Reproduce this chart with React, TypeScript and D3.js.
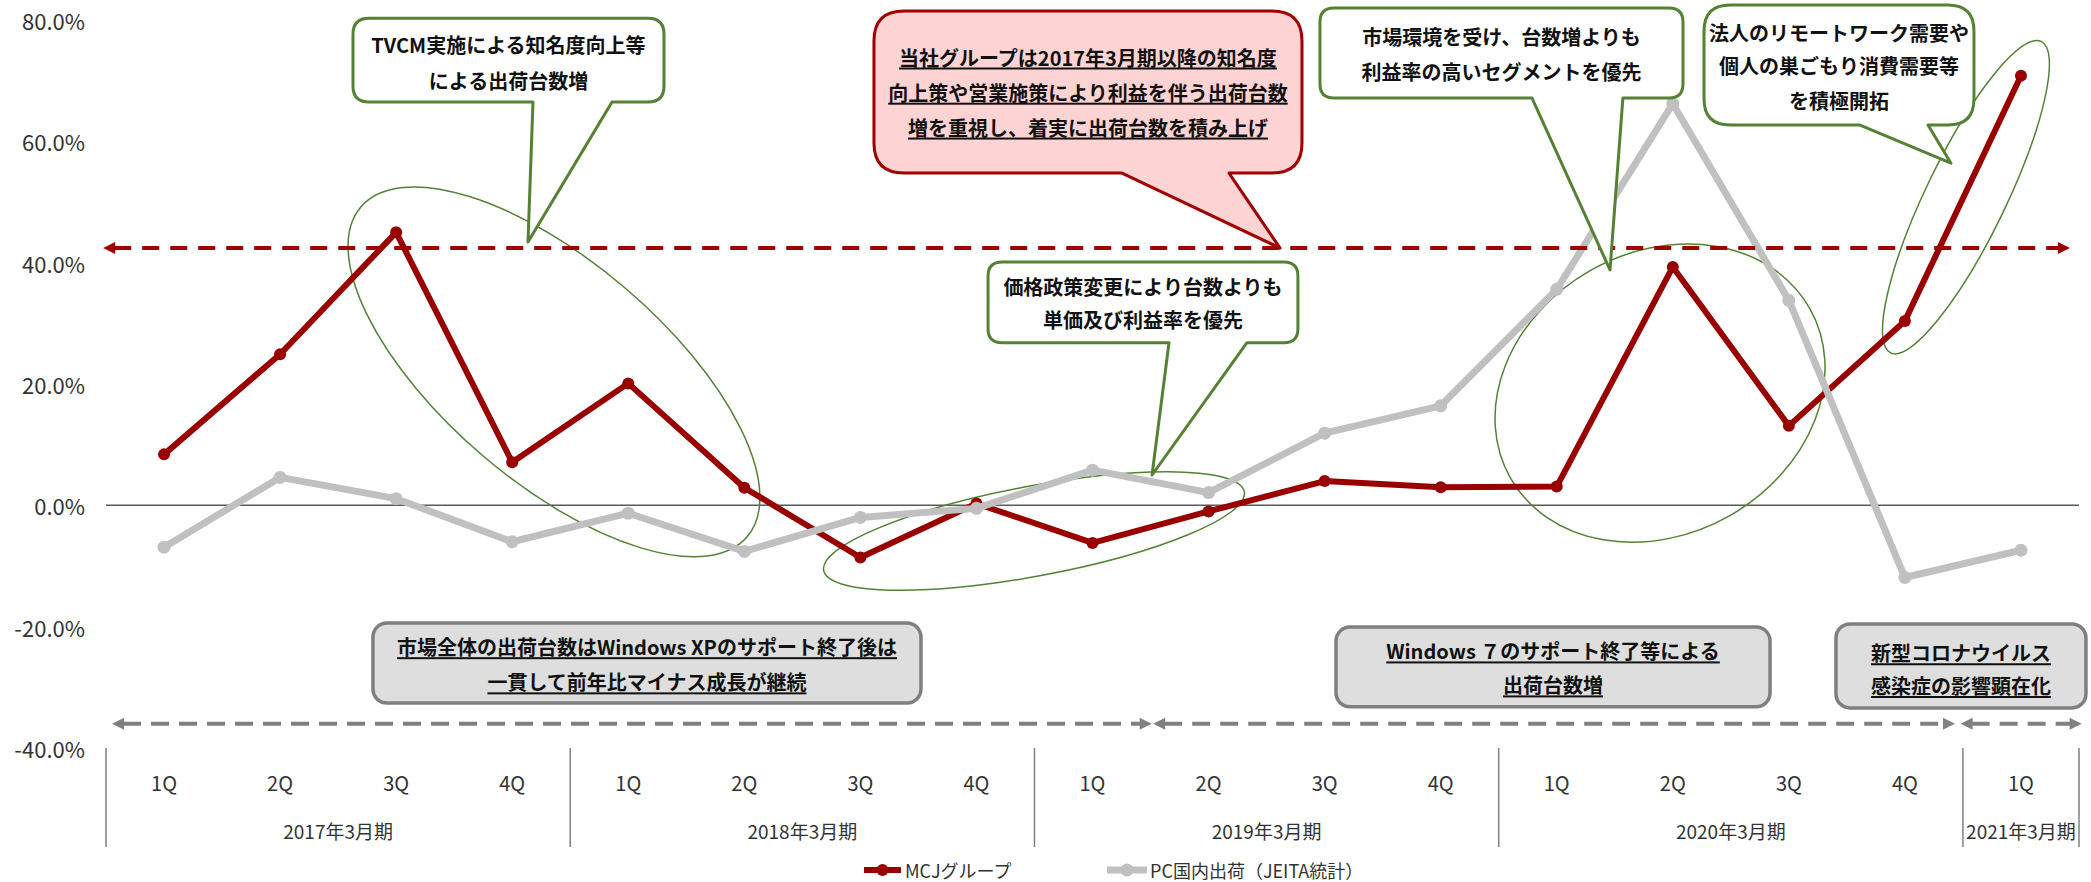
import React from "react";
import * as d3 from "d3";

// ---------- data ----------
const quarters = ["1Q","2Q","3Q","4Q","1Q","2Q","3Q","4Q","1Q","2Q","3Q","4Q","1Q","2Q","3Q","4Q","1Q"];
const fiscalYears = ["2017年3月期","2018年3月期","2019年3月期","2020年3月期","2021年3月期"];
const yearQuarterCounts = [4, 4, 4, 4, 1];
const mcjValues = [8.4, 24.9, 45.0, 7.1, 20.1, 2.9, -8.6, 0.3, -6.2, -1.0, 4.0, 3.0, 3.1, 39.3, 13.1, 30.4, 70.8];
const pcValues = [-6.9, 4.6, 1.1, -6.0, -1.3, -7.6, -2.0, -0.5, 5.8, 2.1, 11.9, 16.4, 35.6, 66.2, 33.8, -11.9, -7.4];
const yTicks = [-40, -20, 0, 20, 40, 60, 80];
const seriesNames = ["MCJグループ", "PC国内出荷（JEITA統計）"];
const referenceLevel = 42.4;
const referenceSpan = { u0: -0.024, u1: 16.922 };

// annotations in data units (u = quarter position from left edge, v = percent)
const greenCallouts = [
  { lines: ["TVCM実施による知名度向上等", "による出荷台数増"], u0: 2.128, u1: 4.808, v0: 80.3, v1: 66.5, b0: 3.679, b1: 4.36, tu: 3.636, tv: 43.4, tl: [75.9, 70.1], r: 16 },
  { lines: ["価格政策変更により台数よりも", "単価及び利益率を優先"], u0: 7.6, u1: 10.27, v0: 40.1, v1: 26.8, b0: 9.159, b1: 9.831, tu: 9.013, tv: 5.0, tl: [36.0, 30.6], r: 14 },
  { lines: ["市場環境を受け、台数増よりも", "利益率の高いセグメントを優先"], u0: 10.46, u1: 13.588, v0: 81.97, v1: 67.13, b0: 12.287, b1: 13.07, tu: 12.959, tv: 38.8, tl: [77.2, 71.5], r: 14 },
  { lines: ["法人のリモートワーク需要や", "個人の巣ごもり消費需要等", "を積極開拓"], u0: 13.769, u1: 16.095, v0: 82.47, v1: 62.69, b0: 15.113, b1: 15.699, tu: 15.897, tv: 56.4, tl: [77.98, 72.5, 66.8], r: 26 },
];
const redCallout = { lines: ["当社グループは2017年3月期以降の知名度", "向上策や営業施策により利益を伴う出荷台数", "増を重視し、着実に出荷台数を積み上げ"], u0: 6.617, u1: 10.305, v0: 81.48, v1: 54.77, b0: 8.754, b1: 9.676, tu: 10.116, tv: 42.41, tl: [73.9, 68.1, 62.35], r: 30 };
const grayBoxes = [
  { lines: ["市場全体の出荷台数はWindows XPのサポート終了後は", "一貫して前年比マイナス成長が継続"], u0: 2.3, u1: 7.022, v0: -19.4, v1: -32.6, tl: [-23.3, -29.1] },
  { lines: ["Windows ７のサポート終了等による", "出荷台数増"], u0: 10.598, u1: 14.338, v0: -20.06, v1: -33.2, tl: [-24.0, -29.6] },
  { lines: ["新型コロナウイルス", "感染症の影響顕在化"], u0: 14.906, u1: 17.06, v0: -19.56, v1: -33.4, tl: [-24.3, -29.7] },
];
const grayArrows = [
  { u0: 0.052, u1: 9.01 },
  { u0: 9.023, u1: 15.931 },
  { u0: 15.98, u1: 17.023 },
];
const arrowLevel = -36.0;
const ellipses = [
  { u: 3.86, v: 22.0, rx: 254, ry: 110, rot: 40.5 },
  { u: 7.996, v: -4.24, rx: 214, ry: 45, rot: -10.6 },
  { u: 13.39, v: 18.5, rx: 172, ry: 141, rot: -29.5 },
  { u: 16.026, v: 50.8, rx: 173, ry: 40, rot: -64.2 },
];

const W = 2091;
const H = 882;
const FONT = "'Noto Sans CJK JP', 'Noto Sans', sans-serif";

function bubblePath(x0: number, y0: number, x1: number, y1: number, r: number, bx0: number, bx1: number, tx: number, ty: number) {
  return `M${x0 + r},${y0} H${x1 - r} Q${x1},${y0} ${x1},${y0 + r} V${y1 - r} Q${x1},${y1} ${x1 - r},${y1} H${bx1} L${tx},${ty} L${bx0},${y1} H${x0 + r} Q${x0},${y1} ${x0},${y1 - r} V${y0 + r} Q${x0},${y0} ${x0 + r},${y0} Z`;
}

function DoubleArrow({ x0, x1, yy, color, dash }: { x0: number; x1: number; yy: number; color: string; dash: string }) {
  const hl = 12, hw = 6;
  return (
    <g>
      <line x1={x0 + hl - 1} x2={x1 - hl + 1} y1={yy} y2={yy} stroke={color} strokeWidth={4} strokeDasharray={dash} />
      <path d={`M${x0},${yy} L${x0 + hl},${yy - hw} L${x0 + hl},${yy + hw} Z`} fill={color} />
      <path d={`M${x1},${yy} L${x1 - hl},${yy - hw} L${x1 - hl},${yy + hw} Z`} fill={color} />
    </g>
  );
}

export default function App() {
  const xu = d3.scaleLinear().domain([0, quarters.length]).range([106, 2079]);
  const y = d3.scaleLinear().domain([-40, 80]).range([748, 20]);
  const cx = (i: number) => xu(i + 0.5);

  const line = d3.line<number>().x((_, i) => cx(i)).y((d) => y(d));

  const boundaries = [0, ...d3.cumsum(yearQuarterCounts)];
  const axisBottom = y(-40) + 99;

  const dashRed = "#a00000";
  const redLine = "#990000";
  const grayLine = "#c0c0c0";
  const green = "#548235";

  return (
    <svg width={W} height={H} style={{ position: "absolute", left: 0, top: 0, display: "block", background: "#fff" }} fontFamily={FONT}>
      {/* y tick labels */}
      {yTicks.map((t) => (
        <text key={t} x={85} y={y(t)} textAnchor="end" dominantBaseline="central" fontSize={22} fill="#333">
          {t.toFixed(1) + "%"}
        </text>
      ))}

      {/* zero line */}
      <line x1={xu(0)} x2={xu(quarters.length)} y1={y(0)} y2={y(0)} stroke="#595959" strokeWidth={1.5} />

      {/* category separators */}
      {boundaries.map((b, i) => (
        <line key={i} x1={xu(b)} x2={xu(b)} y1={y(-40)} y2={axisBottom} stroke="#808080" strokeWidth={1.5} />
      ))}
      {quarters.map((q, i) => (
        <text key={i} x={cx(i)} y={782} textAnchor="middle" dominantBaseline="central" fontSize={20} fill="#333">{q}</text>
      ))}
      {fiscalYears.map((fy, i) => (
        <text key={fy} x={(xu(boundaries[i]) + xu(boundaries[i + 1])) / 2} y={830} textAnchor="middle" dominantBaseline="central" fontSize={19} fill="#333">{fy}</text>
      ))}

      {/* ellipses */}
      {ellipses.map((e, i) => {
        const ex = xu(e.u), ey = y(e.v);
        return <ellipse key={i} cx={ex} cy={ey} rx={e.rx} ry={e.ry} transform={`rotate(${e.rot} ${ex} ${ey})`} fill="none" stroke={green} strokeWidth={1.5} />;
      })}

      {/* series */}
      <path d={line(mcjValues) || ""} fill="none" stroke={redLine} strokeWidth={6} strokeLinejoin="round" />
      {mcjValues.map((v, i) => <circle key={i} cx={cx(i)} cy={y(v)} r={6} fill={redLine} />)}
      <path d={line(pcValues) || ""} fill="none" stroke={grayLine} strokeWidth={7} strokeLinejoin="round" />
      {pcValues.map((v, i) => <circle key={i} cx={cx(i)} cy={y(v)} r={6.5} fill={grayLine} />)}

      {/* reference dashed line */}
      <DoubleArrow x0={xu(referenceSpan.u0)} x1={xu(referenceSpan.u1)} yy={y(referenceLevel)} color={dashRed} dash="17 11" />

      {/* gray arrows */}
      {grayArrows.map((a, i) => (
        <DoubleArrow key={i} x0={xu(a.u0)} x1={xu(a.u1)} yy={y(arrowLevel)} color="#808080" dash="18 10" />
      ))}

      {/* gray boxes */}
      {grayBoxes.map((b, i) => {
        const x0 = xu(b.u0), x1 = xu(b.u1);
        const y0 = y(b.v0), y1 = y(b.v1);
        return (
          <g key={i}>
            <rect x={x0} y={y0} width={x1 - x0} height={y1 - y0} rx={14} fill="#dedede" stroke="#7f7f7f" strokeWidth={3.5} />
            {b.lines.map((l, j) => (
              <text key={j} x={(x0 + x1) / 2} y={y(b.tl[j])} textAnchor="middle" dominantBaseline="central" fontSize={20} fontWeight="bold" fill="#111" textDecoration="underline">{l}</text>
            ))}
          </g>
        );
      })}

      {/* green callouts */}
      {greenCallouts.map((c, i) => {
        const x0 = xu(c.u0), x1 = xu(c.u1);
        return (
          <g key={i}>
            <path d={bubblePath(x0, y(c.v0), x1, y(c.v1), c.r, xu(c.b0), xu(c.b1), xu(c.tu), y(c.tv))} fill="#fff" stroke={green} strokeWidth={3} strokeLinejoin="round" />
            {c.lines.map((l, j) => (
              <text key={j} x={(x0 + x1) / 2} y={y(c.tl[j])} textAnchor="middle" dominantBaseline="central" fontSize={20} fontWeight="bold" fill="#111">{l}</text>
            ))}
          </g>
        );
      })}

      {/* red callout */}
      {(() => {
        const c = redCallout;
        const x0 = xu(c.u0), x1 = xu(c.u1);
        return (
          <g>
            <path d={bubblePath(x0, y(c.v0), x1, y(c.v1), c.r, xu(c.b0), xu(c.b1), xu(c.tu), y(c.tv))} fill="#fdd3d3" stroke="#a00000" strokeWidth={3} strokeLinejoin="round" />
            {c.lines.map((l, j) => (
              <text key={j} x={(x0 + x1) / 2} y={y(c.tl[j])} textAnchor="middle" dominantBaseline="central" fontSize={20} fontWeight="bold" fill="#111" textDecoration="underline">{l}</text>
            ))}
          </g>
        );
      })()}

      {/* legend */}
      <g>
        <line x1={864} x2={901} y1={870} y2={870} stroke={redLine} strokeWidth={6} />
        <circle cx={882.5} cy={870} r={6} fill={redLine} />
        <text x={905} y={870} dominantBaseline="central" fontSize={18} fill="#333">{seriesNames[0]}</text>
        <line x1={1107} x2={1147} y1={870} y2={870} stroke={grayLine} strokeWidth={7} />
        <circle cx={1127} cy={870} r={6.5} fill={grayLine} />
        <text x={1150} y={870} dominantBaseline="central" fontSize={18} fill="#333">{seriesNames[1]}</text>
      </g>
    </svg>
  );
}
